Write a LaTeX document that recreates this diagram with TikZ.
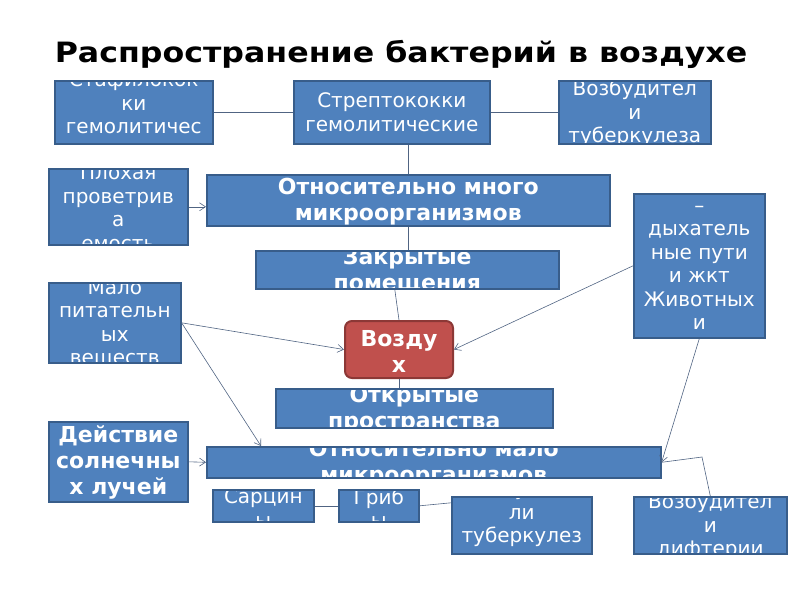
\documentclass[tikz,border=0pt]{standalone}
\usepackage{fontspec}
\usepackage{xcolor}
\usetikzlibrary{arrows.meta}
\newfontfamily\boxfont{DejaVu Sans}
\newfontfamily\headfont[FakeStretch=1.13]{DejaVu Sans}
\definecolor{boxfill}{RGB}{79,129,189}
\definecolor{boxline}{RGB}{56,93,138}
\definecolor{airfill}{RGB}{192,80,77}
\definecolor{airline}{RGB}{140,56,54}
\definecolor{link}{RGB}{80,100,130}
\tikzset{
 box/.style={draw=boxline,fill=boxfill,line width=1.6pt,inner sep=0pt,anchor=north west},
 txt/.style={anchor=center,text=white,align=center,inner sep=0pt,font=\boxfont\fontsize{20}{23.5}\selectfont},
 btxt/.style={anchor=center,text=white,align=center,inner sep=0pt,font=\boxfont\bfseries\fontsize{22}{26}\selectfont},
 intext/.style n args={3}{path picture={\node[#1] at ([yshift=#2]path picture bounding box.center) {#3};}},
 link/.style={draw=link,line width=0.6pt},
 arr/.style={link,-{Straight Barb[length=6pt,width=8pt]}}
}
\begin{document}
\begin{tikzpicture}[x=1pt,y=-1pt]
 \useasboundingbox (0,0) rectangle (800,600);
 \node[anchor=base,font=\headfont\bfseries\fontsize{28}{28}\selectfont] (title) at (401,62) {Распространение бактерий в воздухе};
 % top row
 \node[box,minimum width=158pt,minimum height=63pt,intext={txt}{9.5pt}{Стафилокок\\ки\\гемолитичес}] (staph) at (54,80) {};
 \node[box,minimum width=196pt,minimum height=63pt,intext={txt}{0pt}{Стрептококки\\гемолитические}] (strep) at (293,80) {};
 \node[box,minimum width=152pt,minimum height=63pt,intext={txt}{-1.5pt}{Возбудител\\и\\туберкулеза}] (tbtop) at (558,80) {};
 % middle
 \node[box,minimum width=139pt,minimum height=76pt,intext={txt}{-1pt}{Плохая\\проветрив\\а\\емость}] (vent) at (48,168) {};
 \node[box,minimum width=403pt,minimum height=51pt,intext={btxt}{-1.5pt}{Относительно много\\микроорганизмов}] (many) at (206,174) {};
 \node[box,minimum width=303pt,minimum height=38pt,intext={btxt}{-1.5pt}{Закрытые\\помещения}] (closed) at (255,250) {};
 \node[box,draw=airline,fill=airfill,line width=2pt,rounded corners=7pt,minimum width=108pt,minimum height=57pt,intext={btxt}{-1.5pt}{Возду\\х}] (air) at (344,320) {};
 \node[box,minimum width=277pt,minimum height=39pt,intext={btxt}{-1.5pt}{Открытые\\пространства}] (open) at (275,388) {};
 \node[box,minimum width=131pt,minimum height=144pt,intext={txt}{-2pt}{–\\дыхатель\\ные пути\\и жкт\\Животных\\и}] (animals) at (633,193) {};
 \node[box,minimum width=132pt,minimum height=80pt,intext={txt}{-1pt}{Мало\\питательн\\ых\\веществ}] (poor) at (48,282) {};
 % bottom
 \node[box,minimum width=139pt,minimum height=80pt,intext={btxt}{-1pt}{Действие\\солнечны\\х лучей}] (sun) at (48,421) {};
 \node[box,minimum width=454pt,minimum height=31pt,intext={btxt}{-1pt}{Относительно мало\\микроорганизмов}] (few) at (206,446) {};
 \node[box,minimum width=101pt,minimum height=32pt,intext={txt}{-2.5pt}{Сарцин\\ы}] (sarc) at (212,489) {};
 \node[box,minimum width=80pt,minimum height=32pt,intext={txt}{-2.5pt}{Гриб\\ы}] (fungi) at (338,489) {};
 \node[box,minimum width=140pt,minimum height=57pt,intext={txt}{11.5pt}{Возбудите\\ли\\туберкулез}] (tbbot) at (451,496) {};
 \node[box,minimum width=153pt,minimum height=57pt,intext={txt}{-1.5pt}{Возбудител\\и\\дифтерии}] (diph) at (633,496) {};
 \coordinate (bend) at (702,457);
 % connectors
 \draw[link] (staph.east) -- (strep.west);
 \draw[link] (strep.east) -- (tbtop.west);
 \draw[link] (strep.south -| many.north) -- (many.north);
 \draw[link] (many.south) -- (many.south |- closed.north);
 \draw[link] ([xshift=-12.5pt]closed.south) -- (air.north);
 \draw[link] (air.south) -- (air.south |- open.north);
 \draw[arr] (vent.east) -- (vent.east -| many.west);
 \draw[arr] (animals.west) -- (air.east);
 \draw[arr] (animals.south) -- (few.east);
 \draw[arr] (poor.east) -- (air.west);
 \draw[arr] (poor.east) -- ([xshift=55pt]few.north west);
 \draw[arr] (sun.east) -- (few.west);
 \draw[link] (few.east) -- (bend) -- (diph.north);
 \draw[link] (sarc.east) -- (fungi.west);
 \draw[link] (fungi.east) -- ([yshift=22.5pt]tbbot.west);
\end{tikzpicture}
\end{document}
